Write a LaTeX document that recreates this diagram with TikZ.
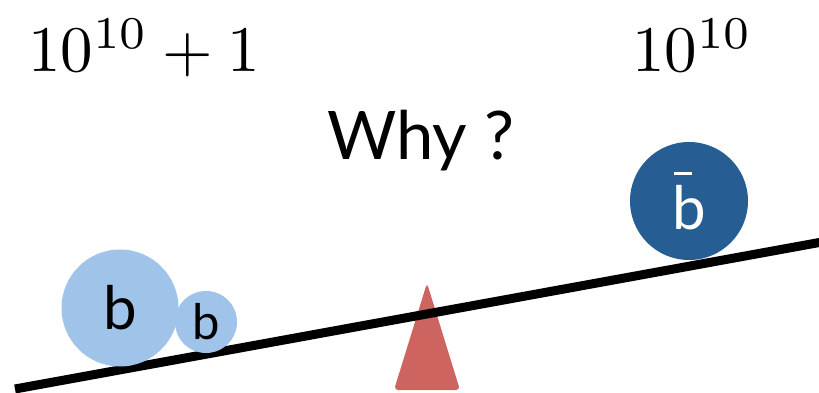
\documentclass[tikz,border=0pt]{standalone}
\usepackage{fontspec}
\newfontfamily\gillish{Lato}
\definecolor{lightb}{HTML}{A0C3EA}
\definecolor{darkb}{HTML}{265E93}
\definecolor{tri}{HTML}{CD6460}
\newcommand{\barb}{\vbox{\offinterlineskip\hbox{\kern2pt\rule{18pt}{3.5pt}}\kern10.5pt\hbox{b}}}
\tikzset{
  ball/.style={circle, inner sep=0pt, fill=lightb, text=black},
  abar/.style={circle, inner sep=0pt, fill=darkb, text=white},
  bigtxt/.style={inner sep=0pt, scale=6.5, transform shape}
}
\begin{document}
\begin{tikzpicture}[x=1pt,y=-1pt]
\useasboundingbox (0,0) rectangle (819,393);
% fulcrum
\fill[tri, rounded corners=4pt] (427,283) -- (460,390) -- (394,390) -- cycle;
% beam
\coordinate (L) at (15,389);
\coordinate (R) at (822,242);
\draw[line width=9pt] (L) -- (R);
% balls
\node[ball, minimum size=117pt, font=\gillish\fontsize{60}{62}\selectfont] (b1) at (120,308) {b};
\node[ball, minimum size=62pt, font=\gillish\fontsize{49}{51}\selectfont] (b2) at (206,322) {b};
\node[abar, minimum size=118pt, font=\gillish\fontsize{60}{62}\selectfont] (ab) at (689,201) {\barb};
% texts
\node[bigtxt, anchor=base west] (n1) at (27,72) {$10^{10}+1$};
\node[bigtxt, anchor=base west] (n2) at (631,72) {$10^{10}$};
\node[inner sep=0pt, anchor=base west, font=\gillish\fontsize{67}{70}\selectfont] (why) at (327,160) {Why ?};
\end{tikzpicture}
\end{document}
